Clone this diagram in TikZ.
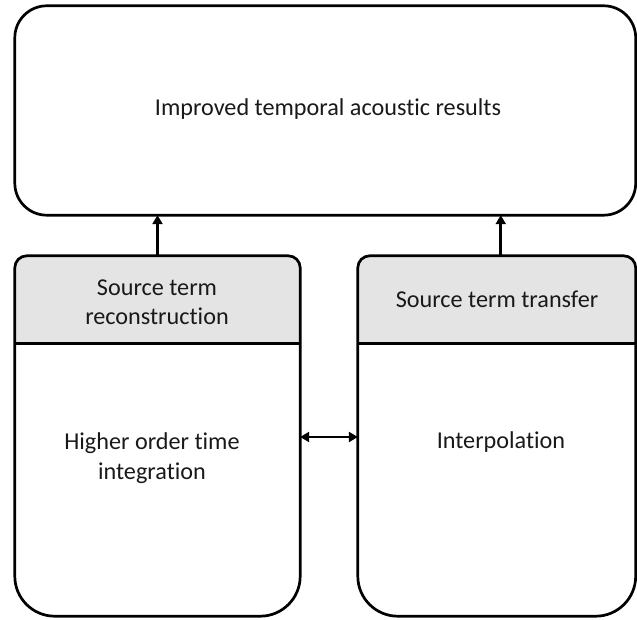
\documentclass[tikz,border=0pt]{standalone}
\usepackage{fontspec}
\setmainfont{Carlito}[RawFeature={-liga;-dlig;-clig}]
\usetikzlibrary{arrows.meta,calc}
\definecolor{headgray}{HTML}{E4E4E4}
\tikzset{
  outline/.style={line width=2.7pt, draw=black},
  frame/.style={inner sep=0pt, draw=none, minimum width=#1},
  label/.style={font=\fontsize{24.2}{29.5}\selectfont, align=center, text=black!90, inner sep=0pt, anchor=base},
  link/.style={line width=2.7pt, -{Triangle[length=9pt,width=10pt]}},
  duallink/.style={line width=2.7pt, {Triangle[length=9pt,width=10pt]}-{Triangle[length=9pt,width=10pt]}}
}
% Lower box: small radius on top, large radius at the bottom, grey header band
\newcommand\lowerbox[2]{% node, header depth
  \fill[headgray]
    ($(#1.north west)+(0,-#2)$) -- ($(#1.north west)+(0,-12pt)$)
    arc[start angle=180,end angle=90,radius=12pt] -- ($(#1.north east)+(-12pt,0)$)
    arc[start angle=90,end angle=0,radius=12pt] -- ($(#1.north east)+(0,-#2)$) -- cycle;
  \draw[outline] ($(#1.north west)+(0,-#2)$) -- ($(#1.north east)+(0,-#2)$);
  \draw[outline]
    ($(#1.north west)+(0,-12pt)$)
    arc[start angle=180,end angle=90,radius=12pt] -- ($(#1.north east)+(-12pt,0)$)
    arc[start angle=90,end angle=0,radius=12pt] -- ($(#1.south east)+(0,40pt)$)
    arc[start angle=0,end angle=-90,radius=40pt] -- ($(#1.south west)+(40pt,0)$)
    arc[start angle=270,end angle=180,radius=40pt] -- cycle;
}
\begin{document}
\begin{tikzpicture}[x=1pt,y=1pt]
  \useasboundingbox (0,0) rectangle (637,619);

  % results box
  \node[frame=620.5pt, minimum height=209pt] (results) at (325.25,508.5) {};
  \draw[outline, rounded corners=32pt] (results.south west) rectangle (results.north east);

  % two method boxes
  \node[frame=285pt, minimum height=360pt] (recon) at (157.5,183) {};
  \node[frame=277.5pt, minimum height=360pt] (transfer) at (496.75,183) {};
  \lowerbox{recon}{88pt}
  \lowerbox{transfer}{88pt}

  % texts (multi-line nodes sit on the baseline of their last line)
  \node[label] (resultstext) at (328,503) {Improved temporal acoustic results};
  \node[label] (recontitle) at (157,294) {Source term\\reconstruction};
  \node[label] (transfertitle) at (497,311) {Source term transfer};
  \node[label] (hotext) at (152,140) {Higher order time\\integration};
  \node[label] (interptext) at (501,171) {Interpolation};

  % connectors
  \draw[link] (recon.north) -- (recon.north |- results.south);
  \draw[link] ([xshift=4pt]transfer.north) -- ([xshift=4pt]transfer.north |- results.south);
  \draw[duallink] (recon.east |- 0,182) coordinate (dl) -- (dl -| transfer.west);
\end{tikzpicture}
\end{document}
